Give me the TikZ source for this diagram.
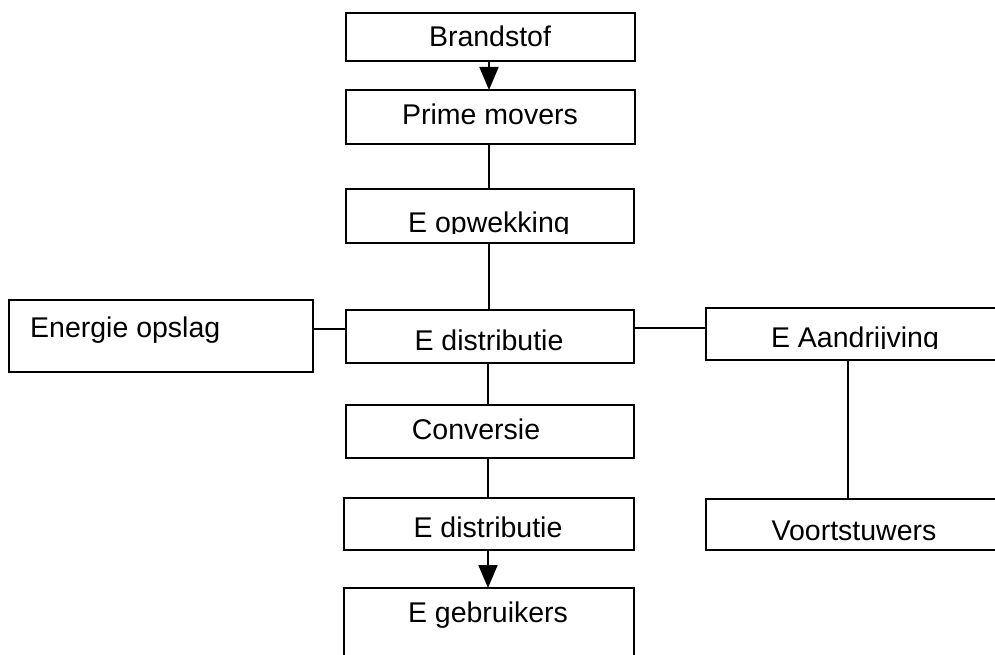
\documentclass[tikz,border=0pt]{standalone}
\usepackage{fontspec}
\setmainfont{Liberation Sans}
\usetikzlibrary{arrows.meta}
\begin{document}
\begin{tikzpicture}[x=1pt,y=-1pt,
  box/.style={draw=black, line width=1.9pt, anchor=north west, inner sep=0pt, fill=white},
  lbl/.style={anchor=base, inner sep=0pt, font=\fontsize{28.5}{31}\selectfont},
  link/.style={draw=black, line width=1.8pt},
  flow/.style={link, -{Triangle[width=19pt,length=23pt]}, shorten >=-1pt}]
\clip (0,0) rectangle (995,655);
\fill[white] (0,0) rectangle (995,655);

% central chain
\node[box, minimum width=289pt, minimum height=48pt] (brand) at (345,12) {};
\node[box, minimum width=289pt, minimum height=54pt] (prime) at (345,89) {};
\node[box, minimum width=288pt, minimum height=54pt] (opw) at (345,188) {};
\node[box, minimum width=288pt, minimum height=53pt] (dist) at (345,309) {};
\node[box, minimum width=288pt, minimum height=53pt] (conv) at (345,404) {};
\node[box, minimum width=290pt, minimum height=52pt] (dist2) at (343,497) {};
\node[box, minimum width=290pt, minimum height=90pt] (gebr) at (343,587) {};

% side branches
\node[box, minimum width=304pt, minimum height=72pt] (opslag) at (8,299) {};
\node[box, minimum width=300pt, minimum height=52pt] (aandr) at (705,307) {};
\node[box, minimum width=300pt, minimum height=51pt] (voort) at (705,498) {};

% labels
\node[lbl] (tbrand) at (490,47) {Brandstof};
\node[lbl] (tprime) at (490,125) {Prime movers};
\begin{scope}
  \clip (345,188) rectangle (633,233);
  \node[lbl] (topw) at (489,232) {E opwekking};
\end{scope}
\node[lbl] (tdist) at (489,350) {E distributie};
\node[lbl, anchor=base west] (topslag) at (30,337) {Energie opslag};
\begin{scope}
  \clip (705,307) rectangle (995,348);
  \node[lbl] (taandr) at (855,347) {E Aandrijving};
\end{scope}
\node[lbl] (tconv) at (476,439) {Conversie};
\node[lbl] (tdist2) at (488,537) {E distributie};
\node[lbl] (tvoort) at (854,540) {Voortstuwers};
\node[lbl] (tgebr) at (488,622) {E gebruikers};

% connectors
\draw[flow] (brand.south -| 489,0) -- (prime.north -| 489,0);
\draw[link] (prime.south -| 489,0) -- (opw.north -| 489,0);
\draw[link] (opw.south -| 489,0) -- (dist.north -| 489,0);
\draw[link] (dist.south -| 488,0) -- (conv.north -| 488,0);
\draw[link] (conv.south -| 488,0) -- (dist2.north -| 488,0);
\draw[flow] (dist2.south -| 488,0) -- (gebr.north -| 488,0);
\draw[link] (opslag.east |- 0,329) -- (dist.west |- 0,329);
\draw[link] (dist.east |- 0,328) -- (aandr.west |- 0,328);
\draw[link] (aandr.south -| 848,0) -- (voort.north -| 848,0);
\end{tikzpicture}
\end{document}
